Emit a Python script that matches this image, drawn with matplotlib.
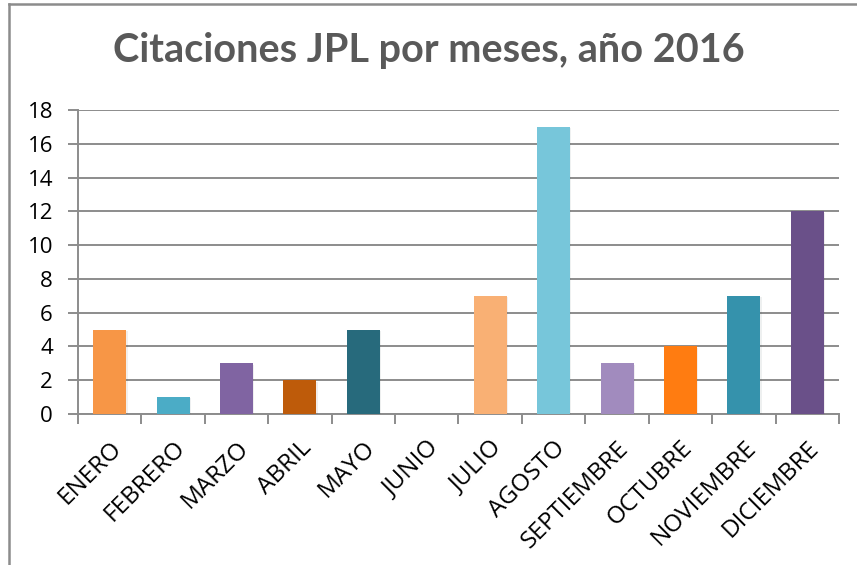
import numpy as np
import matplotlib
matplotlib.use("Agg")
import matplotlib.pyplot as plt
import matplotlib.patheffects as pe
from matplotlib.lines import Line2D

# datos
meses = ['ENERO', 'FEBRERO', 'MARZO', 'ABRIL', 'MAYO', 'JUNIO', 'JULIO',
         'AGOSTO', 'SEPTIEMBRE', 'OCTUBRE', 'NOVIEMBRE', 'DICIEMBRE']
citaciones = [5, 1, 3, 2, 5, 0, 7, 17, 3, 4, 7, 12]
colores = ['#F79646', '#4BACC6', '#8064A2', '#BE5B0A', '#276A7C', '#C0504D',
           '#F9B074', '#77C6DA', '#A18BBE', '#FF7C11', '#3592AC', '#6A5089']
y_ticks = [0, 2, 4, 6, 8, 10, 12, 14, 16, 18]

plt.rcParams['font.family'] = ['Open Sans', 'DejaVu Sans']

fig = plt.figure(figsize=(8.57, 5.65), dpi=100)
ax = fig.add_axes([0.091, 0.2673, 0.888, 0.538])

x = np.arange(len(meses))
bars = ax.bar(x, citaciones, width=0.52, color=colores, zorder=3)
for b in bars:
    b.set_path_effects([pe.SimplePatchShadow(offset=(1, -1), alpha=0.07), pe.Normal()])

ax.set_xlim(-0.5, len(meses) - 0.5)
ax.set_ylim(0, 18)
ax.set_yticks(y_ticks)
ax.yaxis.grid(True, color='#8C8C8C', linewidth=1.4, zorder=0)

# marcas del eje x entre categorias
ax.set_xticks(np.arange(-0.5, len(meses), 1.0))
ax.set_xticklabels([])
ax.set_xticks(x, minor=True)
ax.set_xticklabels(meses, minor=True, rotation=45, ha='right',
                   rotation_mode='anchor', fontsize=17.5)
ax.tick_params(axis='x', which='major', length=7, width=1.4, color='#8C8C8C')
ax.tick_params(axis='x', which='minor', length=0, pad=16)
ax.tick_params(axis='y', length=7, width=1.4, color='#8C8C8C', labelsize=16, pad=11)

for s in ['top', 'right']:
    ax.spines[s].set_visible(False)
for s in ['left', 'bottom']:
    ax.spines[s].set_color('#8C8C8C')
    ax.spines[s].set_linewidth(1.4)

fig.text(0.5, 0.91, 'Citaciones JPL por meses, año 2016', ha='center', va='center',
         fontsize=28.5, fontweight='bold', color='#595959',
         family=['Lato', 'DejaVu Sans'])

# marco del area del grafico
fig.add_artist(Line2D([9 / 857, 9 / 857], [0, 1 - 4 / 565], color='#8C8C8C', linewidth=1.8))
fig.add_artist(Line2D([9 / 857, 1], [1 - 4 / 565, 1 - 4 / 565], color='#8C8C8C', linewidth=1.8))

fig.savefig('out.png', dpi=100)
